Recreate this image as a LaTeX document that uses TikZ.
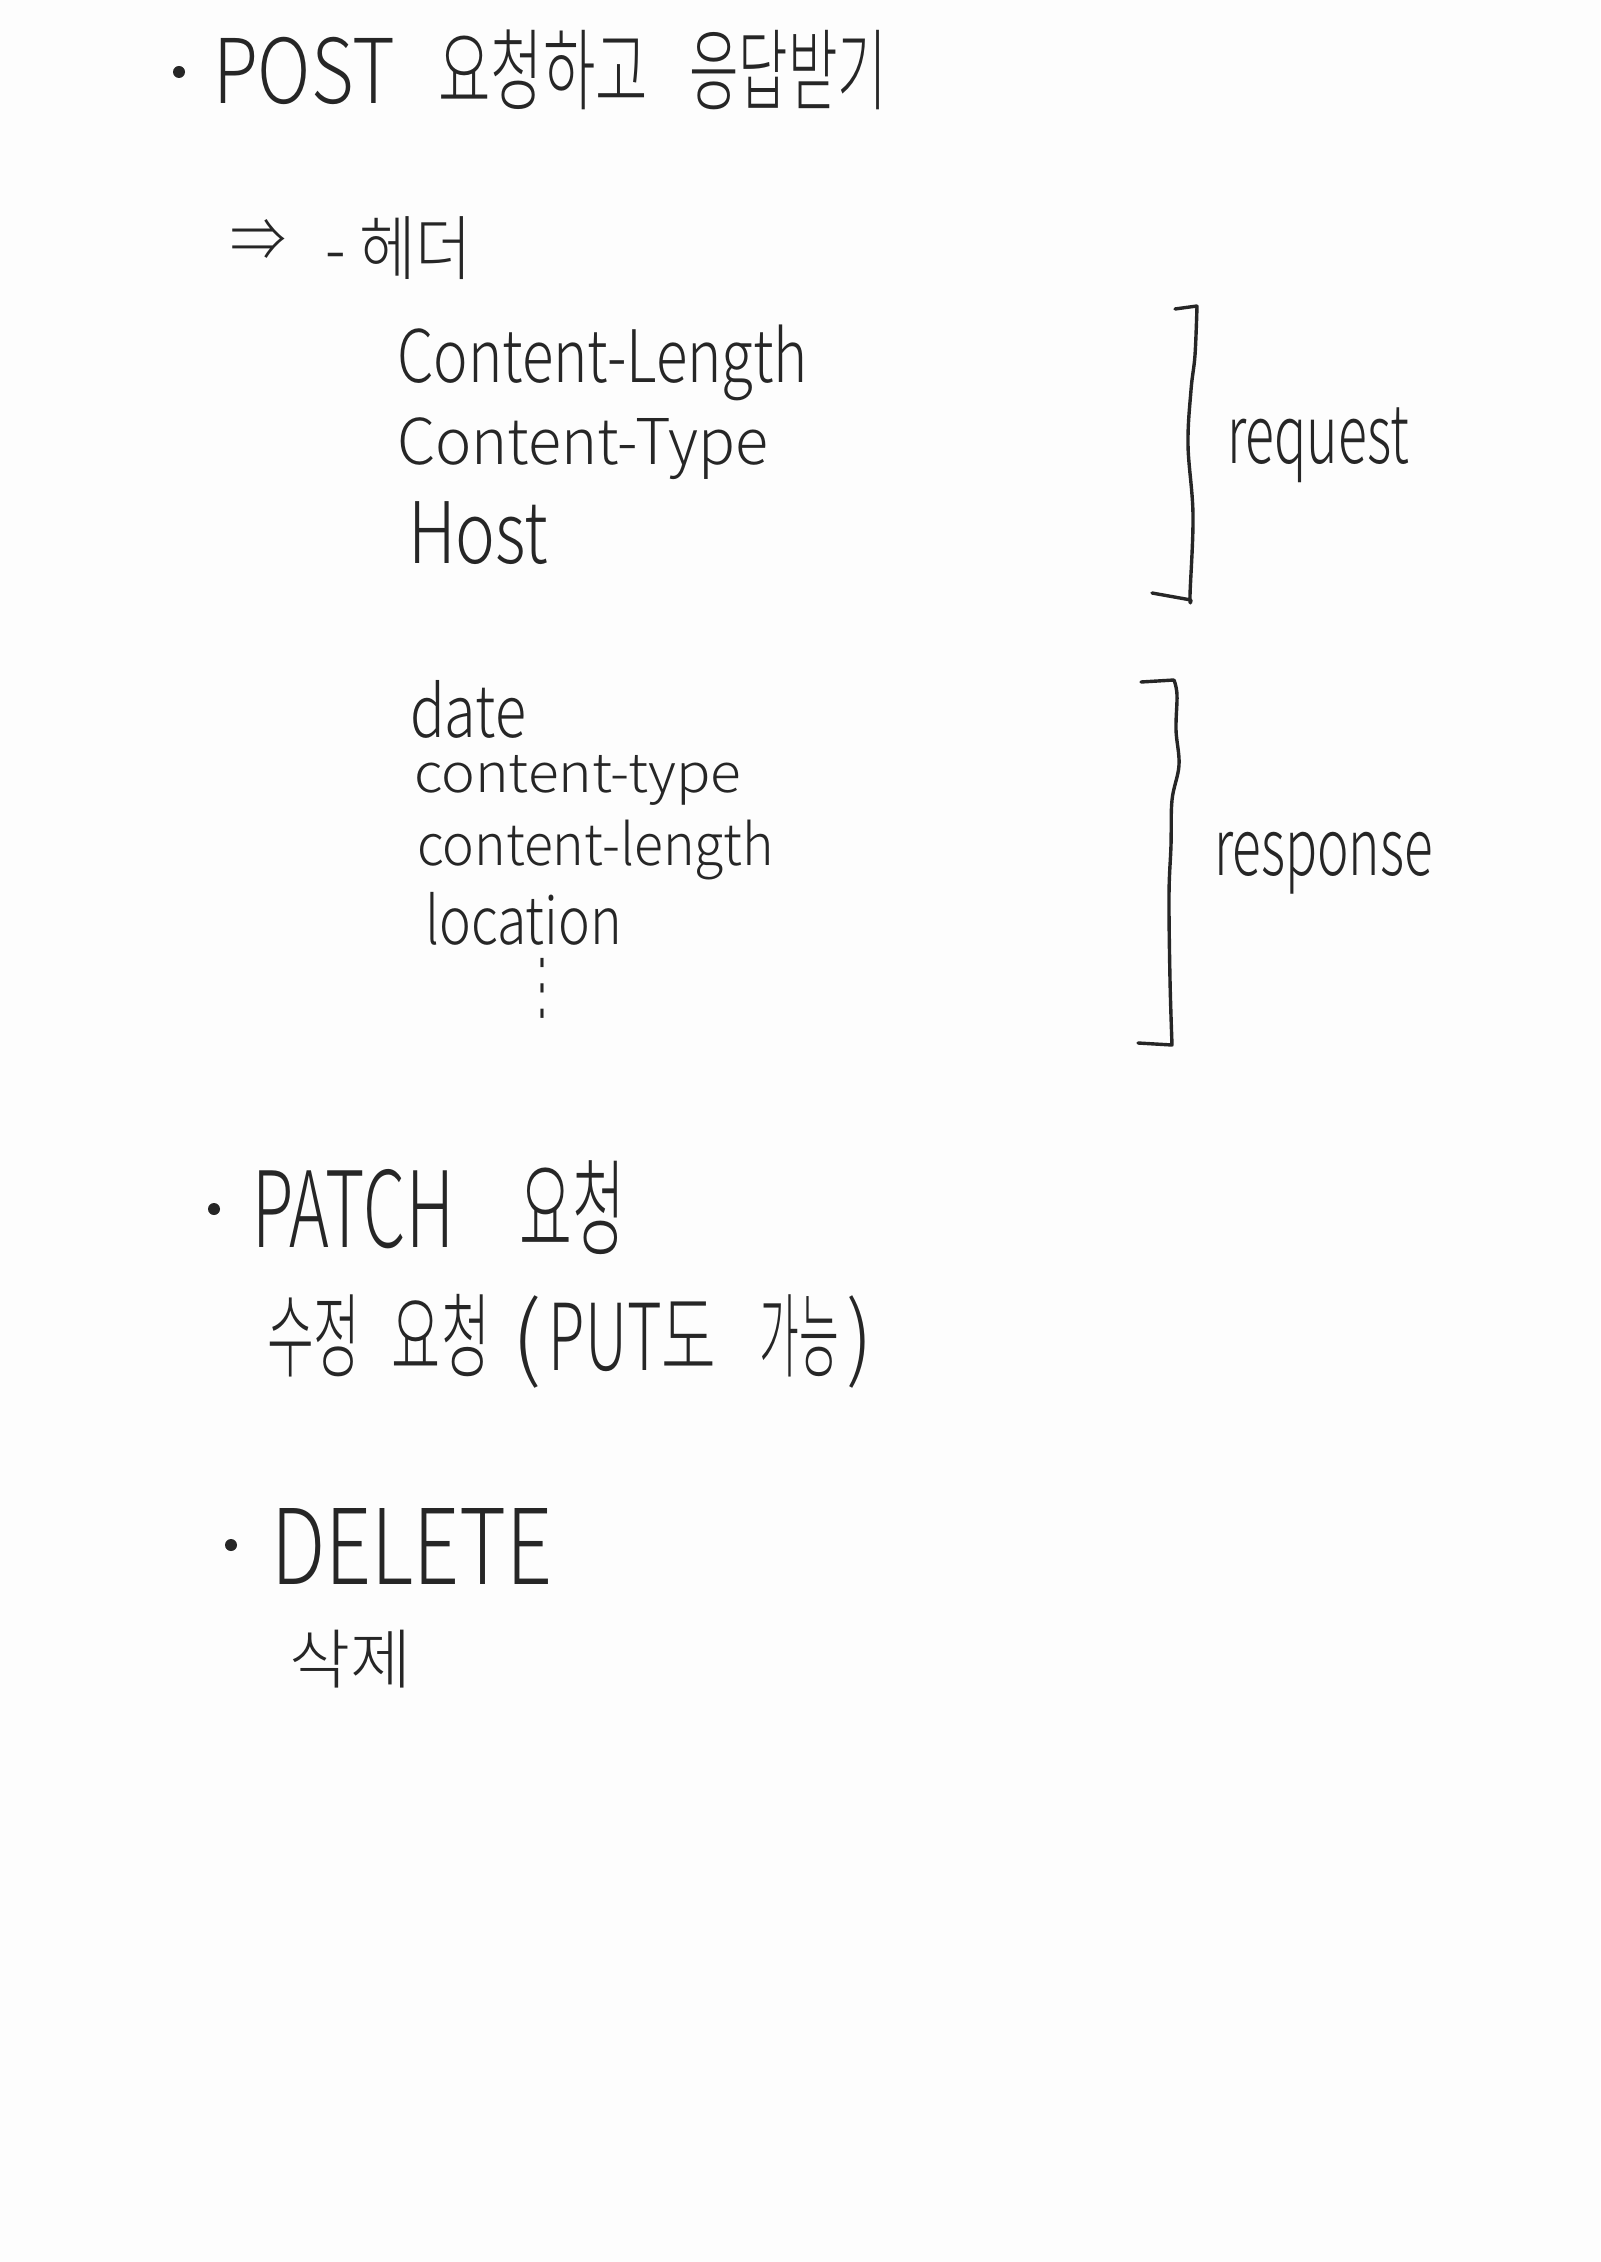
\documentclass[tikz,border=0pt]{standalone}
\usepackage{graphicx}
\usepackage{fontspec}
\setmainfont{Noto Sans CJK KR Light}
\newfontfamily\symfont{DejaVu Sans}
\definecolor{ink}{HTML}{262626}
\definecolor{paper}{HTML}{FDFDFD}
\tikzset{
  hwtext/.style={inner sep=0pt,outer sep=0pt,anchor=north west,text=ink,font=\fontsize{40}{48}\selectfont},
  penline/.style={draw=ink,line width=1.7pt,line cap=round,line join=round},
  bulletdot/.style={circle,fill=ink,draw=none,minimum size=6pt,inner sep=0pt}
}
\newcommand{\hw}[6]{\node[hwtext] (#1) at (#2,#3) {\resizebox*{\dimexpr(#4pt-#2pt)/2\relax}{\dimexpr(#5pt-#3pt)/2\relax}{#6}};}
\newcommand{\sx}[2]{\scalebox{#1}[1]{#2}}
\begin{document}
\begin{tikzpicture}[x=0.5pt,y=-0.5pt]
\useasboundingbox (0,0) rectangle (1600,2262);
\fill[paper] (0,0) rectangle (1600,2262);
\node[bulletdot] (b1) at (179,72) {};
\hw{post}{213}{30}{887}{110}{POST\hspace{.59em}\sx{.776}{요청하고}\hspace{.56em}\sx{.733}{응답받기}}
\hw{arrow}{230}{220}{286}{262}{⇒}
\hw{header}{325}{217}{472}{280}{- 헤더}
\hw{cl}{397}{325}{808}{401}{Content-Length}
\hw{ct}{397}{418}{768}{480}{Content-Type}
\hw{host}{408}{502}{548}{565}{Host}
\hw{date}{410}{680}{526}{738}{date}
\hw{ctl}{414}{755}{741}{805}{content-type}
\hw{cll}{417}{820}{774}{880}{content-length}
\hw{loc}{425}{892}{622}{945}{location}
\hw{dots}{527}{958}{557}{1018}{\symfont ⋮}
\hw{req}{1227}{408}{1409}{483}{request}
\hw{resp}{1214}{832}{1433}{894}{response}
\node[bulletdot] (b2) at (214,1209) {};
\hw{patch}{252}{1161}{625}{1255}{PATCH\hspace{.97em}\sx{.85}{요청}}
\hw{edit}{267}{1294}{873}{1388}{수정\hspace{.62em}\sx{1.05}{요청}\hspace{.42em}\sx{1.9}{(}\hspace{.14em}\sx{1.17}{PUT도}\hspace{.85em}\sx{.85}{가능}\hspace{.14em}\sx{1.67}{)}}
\node[bulletdot] (b3) at (231,1545) {};
\hw{del}{271}{1508}{553}{1584}{DELETE}
\hw{rem}{289}{1630}{411}{1688}{삭제}
\draw[penline] (1175,309) -- (1197,306) plot[smooth,tension=.6] coordinates {(1197,306) (1195,355) (1191,390) (1188,445) (1193,515) (1190,595) (1191,600)} -- (1152,593);
\draw[penline] (1141,682) -- (1174,680) plot[smooth,tension=.6] coordinates {(1174,680) (1177,695) (1176,730) (1179,765) (1172,800) (1171,845) (1169,895) (1170,980) (1172,1045)} -- (1138,1043);
\end{tikzpicture}
\end{document}
